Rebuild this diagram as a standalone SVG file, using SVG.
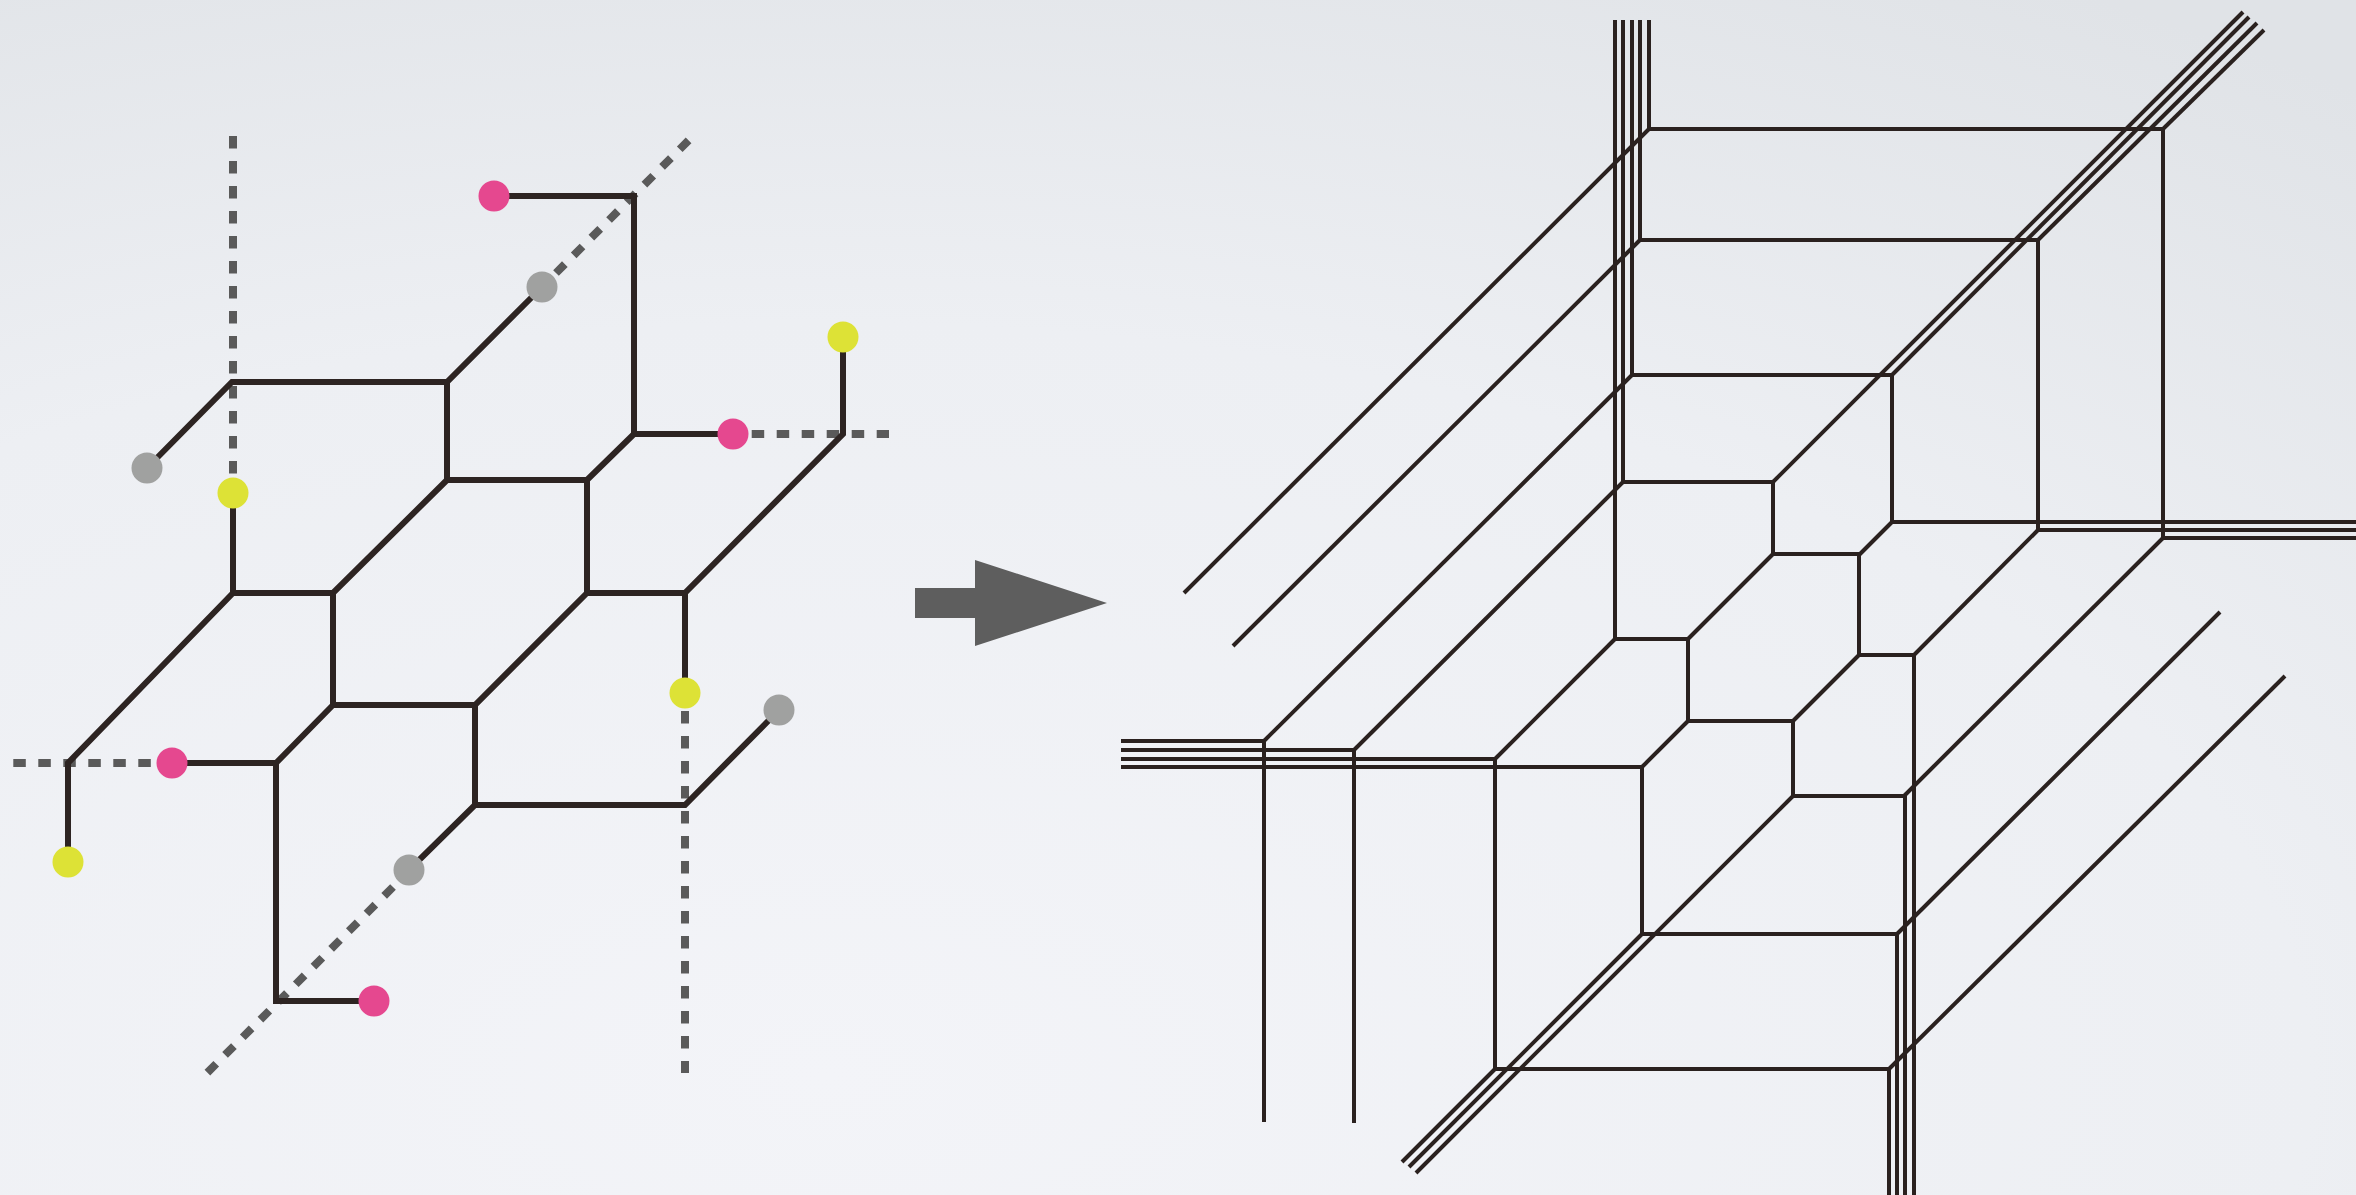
<svg xmlns="http://www.w3.org/2000/svg" width="2356" height="1195" viewBox="0 0 2356 1195">
  <defs>
    <radialGradient id="bg" cx="0.35" cy="0.9" r="1.05">
      <stop offset="0" stop-color="#f3f4f8"/>
      <stop offset="0.6" stop-color="#edeff3"/>
      <stop offset="1" stop-color="#e0e3e7"/>
    </radialGradient>
    <style>
      .ln { fill: none; stroke: #2d2422; stroke-width: 6; stroke-linejoin: miter; stroke-linecap: butt; }
      .dash { fill: none; stroke: #5a5a5a; stroke-width: 8; stroke-dasharray: 12.5 12.5; }
      .rl { fill: none; stroke: #2a211f; stroke-width: 4; stroke-linejoin: miter; stroke-linecap: butt; }
      .pink { fill: #e5488f; }
      .yellow { fill: #dde236; }
      .gray { fill: #a0a1a0; }
      .arrow { fill: #5e5e5e; }
    </style>
  </defs>
  <rect x="0" y="0" width="2356" height="1195" fill="url(#bg)"/>

  <g id="left-diagram">
    <g id="connectors">
      <g id="dashed-connectors">
        <path class="dash" d="M233,136 L233,474"/>
        <path class="dash" d="M556,273 L691,138"/>
        <path class="dash" d="M751.7,434 L889,434"/>
        <path class="dash" d="M13.3,763 L152,763"/>
        <path class="dash" d="M393,887 L207,1073"/>
        <path class="dash" d="M685,711 L685,1073"/>
      </g>
      <g id="solid-connectors">
        <path class="ln" d="M147,468 L232,382 L447,382 L542,287"/>
        <path class="ln" d="M494,196 L634,196 L634,434 L733,434"/>
        <path class="ln" d="M634,434 L587,480 L447,480 L447,382"/>
        <path class="ln" d="M843,337 L843,434 L685,593 L685,693"/>
        <path class="ln" d="M587,480 L587,593 L685,593"/>
        <path class="ln" d="M233,493 L233,593 L333,593 L447,480"/>
        <path class="ln" d="M233,593 L68,763 L68,862"/>
        <path class="ln" d="M333,593 L333,705 L475,705 L587,593"/>
        <path class="ln" d="M172,763 L276,763 L333,705"/>
        <path class="ln" d="M276,763 L276,1001 L374,1001"/>
        <path class="ln" d="M475,705 L475,805 L409,870"/>
        <path class="ln" d="M475,805 L685,805 L779,710"/>
      </g>
    </g>
    <g id="node-pink-1"><circle class="pink" cx="494" cy="196" r="15.5"/></g>
    <g id="node-pink-2"><circle class="pink" cx="733" cy="434" r="15.5"/></g>
    <g id="node-pink-3"><circle class="pink" cx="172" cy="763" r="15.5"/></g>
    <g id="node-pink-4"><circle class="pink" cx="374" cy="1001" r="15.5"/></g>
    <g id="node-yellow-1"><circle class="yellow" cx="233" cy="493" r="15.5"/></g>
    <g id="node-yellow-2"><circle class="yellow" cx="843" cy="337" r="15.5"/></g>
    <g id="node-yellow-3"><circle class="yellow" cx="68" cy="862" r="15.5"/></g>
    <g id="node-yellow-4"><circle class="yellow" cx="685" cy="693" r="15.5"/></g>
    <g id="node-gray-1"><circle class="gray" cx="147" cy="468" r="15.5"/></g>
    <g id="node-gray-2"><circle class="gray" cx="542" cy="287" r="15.5"/></g>
    <g id="node-gray-3"><circle class="gray" cx="409" cy="870" r="15.5"/></g>
    <g id="node-gray-4"><circle class="gray" cx="779" cy="710" r="15.5"/></g>
  </g>

  <g id="arrow">
    <path class="arrow" d="M915,588 L975,588 L975,560 L1107,603 L975,646 L975,618 L915,618 Z"/>
  </g>

  <g id="right-diagram">
    <path class="rl" d="M1649,20 L1649,129 L2163,129 L2163,538 L2356,538"/>
    <path class="rl" d="M1184,593 L1649,129"/>
    <path class="rl" d="M2264,30 L2163,129"/>
    <path class="rl" d="M2163,538 L1904,796"/>

    <path class="rl" d="M1640,20 L1640,240 L2038,240 L2038,530 L2356,530"/>
    <path class="rl" d="M1233,646 L1640,240"/>
    <path class="rl" d="M2257,23 L2038,240"/>
    <path class="rl" d="M2038,530 L1914,655"/>

    <path class="rl" d="M1632,20 L1632,375 L1892,375 L1892,522 L2356,522"/>
    <path class="rl" d="M1264,741 L1632,375"/>
    <path class="rl" d="M2249,17 L1892,375"/>
    <path class="rl" d="M1892,522 L1859,555"/>

    <path class="rl" d="M1623,20 L1623,482 L1773,482 L1773,554 L1859,554 L1859,655 L1914,655 L1914,1195"/>
    <path class="rl" d="M1354,750 L1623,482"/>
    <path class="rl" d="M2243,12 L1773,482"/>
    <path class="rl" d="M1773,554 L1688,639"/>

    <path class="rl" d="M1615,20 L1615,639 L1688,639 L1688,721 L1793,721 L1793,796 L1905,796 L1905,1195"/>
    <path class="rl" d="M1495,759 L1615,639"/>
    <path class="rl" d="M1859,655 L1793,721"/>
    <path class="rl" d="M1688,721 L1642,767"/>
    <path class="rl" d="M1793,796 L1416,1173"/>

    <path class="rl" d="M1121,741 L1264,741 L1264,1122"/>
    <path class="rl" d="M1121,750 L1354,750 L1354,1123"/>
    <path class="rl" d="M1121,759 L1495,759 L1495,1069 L1889,1069 L1889,1195"/>
    <path class="rl" d="M1121,767 L1642,767 L1642,934 L1897,934 L1897,1195"/>
    <path class="rl" d="M1495,1069 L1402,1162"/>
    <path class="rl" d="M1642,934 L1409,1167"/>
    <path class="rl" d="M1889,1069 L2285,676"/>
    <path class="rl" d="M1897,934 L2220,612"/>
  </g>
</svg>
